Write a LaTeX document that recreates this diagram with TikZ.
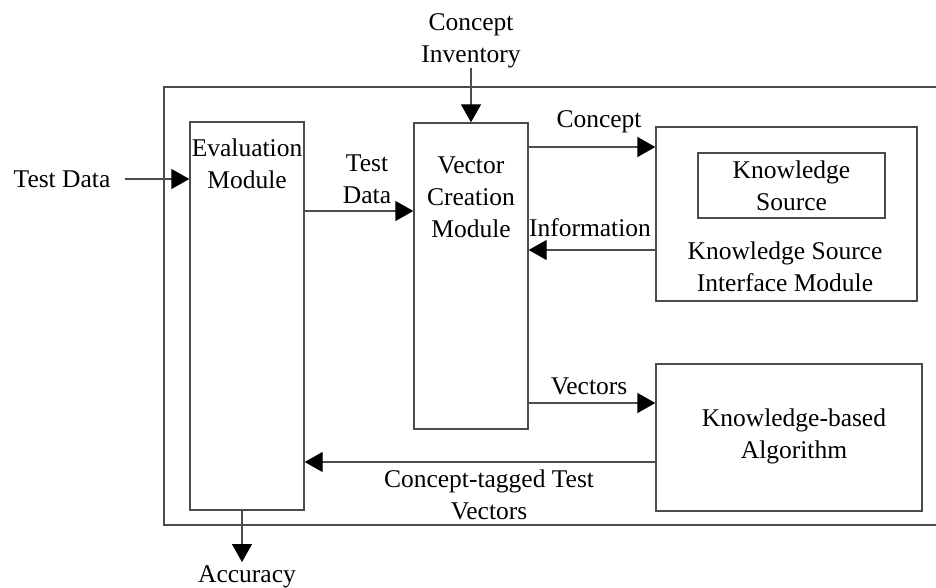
\documentclass[tikz,border=0pt]{standalone}
\usepackage{fontspec}
\setmainfont{Liberation Serif}
\usetikzlibrary{arrows.meta}
\begin{document}
\begin{tikzpicture}[x=1pt,y=-1pt,
  every node/.style={font=\fontsize{25.5}{32}\selectfont, align=center, inner sep=2pt},
  modbox/.style={draw=black!70, line width=1.4pt, minimum width=#1},
  frameline/.style={draw=black!70, line width=1.4pt},
  arr/.style={draw=black!70, line width=1.4pt, -{Triangle[length=18pt,width=20pt,black]}},
  lbl/.style={inner sep=0pt}]
\useasboundingbox (0,0) rectangle (936,588);

% outer frame, open on the right
\draw[frameline] (940,87) -- (164,87) -- (164,525) -- (940,525);

% module boxes
\node[modbox=114pt, minimum height=388pt] (eval) at (247,316) {};
\node[lbl] at (247,164) {Evaluation\\Module};

\node[modbox=114pt, minimum height=306pt] (vc) at (471,276) {};
\node[lbl] at (471,197) {Vector\\Creation\\Module};

\node[modbox=261pt, minimum height=174pt] (ksim) at (786.5,214) {};
\node[modbox=187pt, minimum height=65pt] (ks) at (791.5,185.5) {};
\node[lbl] at (791.5,186) {Knowledge\\Source};
\node[lbl] at (785,267) {Knowledge Source\\Interface Module};

\node[modbox=266pt, minimum height=147pt] (kba) at (789,437.5) {};
\node[lbl] at (794,436) {Knowledge-based\\Algorithm};

% external inputs and outputs
\node[lbl] (td) at (62,179) {Test Data};
\node[lbl] (ci) at (471,41) {Concept\\Inventory};
\node[lbl] (acc) at (247,577) {Accuracy};

\coordinate (tdstart) at (125,179);
\coordinate (accstart) at (242,510);
\coordinate (accend) at (242,562);

% connectors
\draw[arr] (tdstart) -- (tdstart -| eval.west);
\draw[arr] (ci.south) -- (vc.north);
\draw[arr] (accstart) -- (accend);

\draw[arr] (eval.east |- 0,211) -- (vc.west |- 0,211);
\node[lbl] at (367,179) {Test\\Data};

\draw[arr] (vc.east |- 0,147) -- (ksim.west |- 0,147);
\node[lbl] at (599,122) {Concept};

\draw[arr] (ksim.west |- 0,250) -- (vc.east |- 0,250);
\node[lbl] at (590,228) {Information};

\draw[arr] (vc.east |- 0,403) -- (kba.west |- 0,403);
\node[lbl] at (589,386) {Vectors};

\draw[arr] (kba.west |- 0,462) -- (eval.east |- 0,462);
\node[lbl] at (489,495) {Concept-tagged Test\\Vectors};
\end{tikzpicture}
\end{document}
